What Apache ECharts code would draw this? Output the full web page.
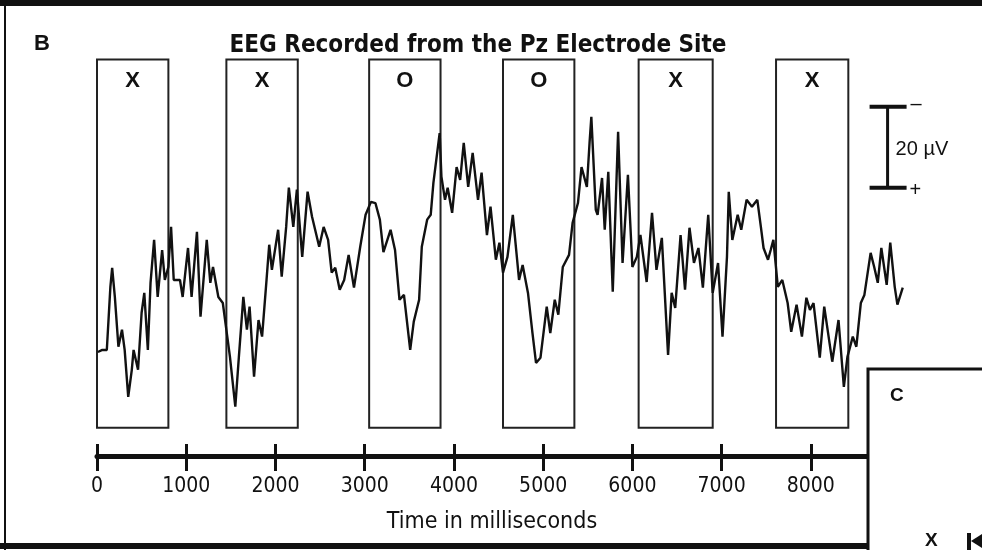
<!DOCTYPE html>
<html>
<head>
<meta charset="utf-8">
<script src="https://cdn.jsdelivr.net/npm/echarts@6/dist/echarts.min.js"></script>
<style>
  html, body { margin: 0; padding: 0; background: #fff; }
  #chart { width: 982px; height: 550px; }
</style>
</head>
<body>
<div id="chart"></div>
<script>
// EEG trace (time in ms, amplitude in µV, negative up)
const timeMs = [10,60,110,150,170,200,240,280,310,350,390,410,460,500,530,570,600,640,680,730,760,800,830,860,930,960,1020,1060,1120,1160,1230,1270,1300,1360,1410,1460,1490,1550,1590,1640,1680,1710,1760,1810,1850,1900,1930,1960,2030,2070,2120,2150,2200,2240,2300,2360,2410,2490,2540,2590,2630,2670,2720,2770,2820,2880,2950,3010,3070,3120,3170,3210,3290,3340,3390,3440,3510,3550,3610,3640,3700,3740,3770,3840,3860,3900,3930,3980,4030,4070,4110,4160,4210,4270,4310,4370,4410,4470,4510,4550,4600,4660,4730,4770,4830,4880,4920,4970,5040,5080,5130,5170,5220,5290,5330,5390,5430,5490,5520,5540,5590,5610,5660,5690,5730,5780,5840,5890,5950,6000,6050,6090,6160,6220,6270,6330,6400,6440,6480,6540,6590,6640,6690,6740,6790,6850,6900,6960,7010,7060,7080,7120,7180,7220,7280,7340,7400,7440,7470,7520,7550,7580,7630,7680,7740,7780,7840,7900,7950,7990,8030,8100,8150,8240,8310,8370,8410,8470,8510,8560,8600,8670,8710,8750,8790,8850,8890,8940,8970,9030];
const amplitudeUV = [20.3,19.8,19.8,4.2,-0.5,6.7,19.0,14.8,19.8,31.4,24.7,19.8,24.7,10.6,5.7,19.8,3.2,-7.4,6.7,-4.9,2.5,-0.7,-10.6,2.5,2.5,6.7,-5.4,6.7,-9.4,11.6,-7.4,3.2,-0.7,6.7,8.2,16.5,21.5,33.8,21.5,6.7,14.8,9.1,26.4,12.4,16.5,2.5,-6.2,0,-9.9,1.7,-10.6,-20.3,-10.6,-19.8,-3.2,-19.3,-13.1,-5.7,-10.6,-7.4,0.7,-0.5,4.9,2.5,-3.7,4.4,-5.7,-13.6,-16.8,-16.5,-12.4,-4.4,-9.9,-4.9,7.4,6.2,19.8,12.8,7.4,-5.7,-12.4,-13.6,-21.5,-33.8,-23.0,-17.3,-20.3,-14.1,-25.4,-22.2,-31.4,-20.5,-28.9,-17.3,-24.0,-8.6,-15.6,-2.5,-6.7,0.7,-3.2,-13.6,2.5,-1.2,5.7,15.6,23.0,21.7,9.1,15.6,7.4,11.1,-0.7,-3.7,-11.6,-16.5,-25.4,-20.5,-31.4,-37.8,-14.8,-13.6,-22.7,-9.9,-24.2,5.4,-34.1,-1.7,-23.5,-0.7,-3.2,-8.6,3.0,-14.1,0,-7.9,21.0,5.7,9.4,-8.6,4.9,-10.4,-1.7,-5.4,4.4,-13.6,5.7,-1.7,16.5,-3.2,-19.3,-7.4,-13.6,-9.9,-17.3,-15.6,-17.3,-10.6,-5.4,-2.5,-4.9,-7.4,4.2,2.5,8.2,15.3,8.6,16.5,6.9,9.9,8.2,21.7,9.1,22.7,12.4,28.9,21.5,16.5,19.0,8.2,6.2,-4.2,-0.7,3.2,-5.4,3.7,-6.7,4.2,8.6,4.4];

// stimulus epochs (boxes)
const epochStart = [0, 1450, 3050, 4550, 6070, 7610];
const epochEnd = [800, 2250, 3850, 5350, 6900, 8420];
const epochLabel = ['X', 'X', 'O', 'O', 'X', 'X'];

// calibration bar
const scaleBarTime = 8860;
const scaleBarFrom = -40.3;
const scaleBarUVsize = 20;

const BOX_TOP = -52;
const BOX_BOTTOM = 39;

const NARROW = '"Liberation Sans Narrow", "Arial Narrow", "DejaVu Sans Condensed", sans-serif';
const SANS = '"Liberation Sans", Arial, sans-serif';
const INK = '#111';

const chart = echarts.init(document.getElementById('chart'));

const option = {
  animation: false,
  backgroundColor: '#fff',
  title: {
    text: 'EEG Recorded from the Pz Electrode Site',
    left: 473,
    textAlign: 'center',
    top: 29,
    textStyle: { fontFamily: NARROW, fontWeight: 'bold', fontSize: 24, color: INK }
  },
  grid: { left: 97, right: 73, top: 27, height: 429 },
  xAxis: [
    {
      type: 'value', min: 0, max: 9100, interval: 1000, position: 'bottom',
      axisLine: { onZero: false, lineStyle: { color: INK, width: 5 } },
      axisTick: { length: 15, lineStyle: { color: INK, width: 3 } },
      axisLabel: { margin: 20, fontSize: 21, fontFamily: NARROW, color: INK, formatter: v => String(v) },
      splitLine: { show: false },
      name: 'Time in milliseconds',
      nameLocation: 'middle',
      nameGap: 55,
      nameTextStyle: { fontFamily: NARROW, fontSize: 23, color: INK, padding: [0, 22, 0, 0] }
    },
    {
      type: 'value', min: 0, max: 9100, interval: 1000, position: 'bottom',
      axisLine: { show: false, onZero: false },
      axisTick: { inside: true, length: 12, lineStyle: { color: INK, width: 3 } },
      axisLabel: { show: false },
      splitLine: { show: false }
    }
  ],
  yAxis: {
    type: 'value', min: -60, max: 46, inverse: true, show: false
  },
  series: [
    {
      type: 'custom',
      name: 'epochs',
      xAxisIndex: 0,
      data: epochStart.map((s, i) => [s, epochEnd[i], i]),
      renderItem: function (params, api) {
        const p0 = api.coord([api.value(0), BOX_TOP]);
        const p1 = api.coord([api.value(1), BOX_BOTTOM]);
        return {
          type: 'group',
          children: [
            {
              type: 'rect',
              shape: { x: p0[0], y: p0[1], width: p1[0] - p0[0], height: p1[1] - p0[1] },
              style: { fill: 'none', stroke: '#222', lineWidth: 2 }
            },
            {
              type: 'text',
              style: {
                text: epochLabel[api.value(2)],
                x: (p0[0] + p1[0]) / 2, y: p0[1] + 22,
                align: 'center', verticalAlign: 'middle',
                font: 'bold 22px ' + SANS, fill: INK
              }
            }
          ]
        };
      }
    },
    {
      type: 'line',
      name: 'Pz',
      data: timeMs.map((t, i) => [t, amplitudeUV[i]]),
      showSymbol: false,
      symbol: 'none',
      lineStyle: { color: INK, width: 2.4 },
      z: 3
    },
    {
      type: 'custom',
      name: 'scale',
      data: [[scaleBarTime, scaleBarFrom, scaleBarFrom + scaleBarUVsize]],
      renderItem: function (params, api) {
        const a = api.coord([api.value(0), api.value(1)]);
        const b = api.coord([api.value(0), api.value(2)]);
        const font = '20px ' + SANS;
        return {
          type: 'group',
          children: [
            { type: 'line', shape: { x1: a[0], y1: a[1], x2: b[0], y2: b[1] }, style: { stroke: INK, lineWidth: 3 } },
            { type: 'line', shape: { x1: a[0] - 18, y1: a[1], x2: a[0] + 19, y2: a[1] }, style: { stroke: INK, lineWidth: 4 } },
            { type: 'line', shape: { x1: b[0] - 18, y1: b[1], x2: b[0] + 19, y2: b[1] }, style: { stroke: INK, lineWidth: 4 } },
            { type: 'text', style: { text: '\u2013', x: a[0] + 23, y: a[1] - 2, verticalAlign: 'middle', font: font, fill: INK } },
            { type: 'text', style: { text: '+', x: b[0] + 22, y: b[1] + 3, verticalAlign: 'middle', font: font, fill: INK } },
            { type: 'text', style: { text: '20 \u00b5V', x: a[0] + 8, y: (a[1] + b[1]) / 2 + 2, verticalAlign: 'middle', font: font, fill: INK } }
          ]
        };
      }
    }
  ],
  graphic: [
    // panel frame
    { type: 'rect', shape: { x: 0, y: 0, width: 982, height: 6 }, style: { fill: INK }, z: 100 },
    { type: 'rect', shape: { x: 4, y: 0, width: 2, height: 550 }, style: { fill: INK }, z: 100 },
    { type: 'rect', shape: { x: 0, y: 543, width: 870, height: 6 }, style: { fill: INK }, z: 100 },
    { type: 'text', style: { text: 'B', x: 34, y: 44, verticalAlign: 'middle', font: 'bold 22px ' + SANS, fill: INK }, z: 100 },
    // neighbouring panel C
    { type: 'rect', shape: { x: 868, y: 369, width: 130, height: 200 }, style: { fill: '#fff', stroke: INK, lineWidth: 3 }, z: 100 },
    { type: 'text', style: { text: 'C', x: 890, y: 396, verticalAlign: 'middle', font: 'bold 19px ' + SANS, fill: INK }, z: 101 },
    { type: 'text', style: { text: 'X', x: 925, y: 541, verticalAlign: 'middle', font: 'bold 19px ' + SANS, fill: INK }, z: 101 },
    { type: 'rect', shape: { x: 967, y: 533, width: 4, height: 17 }, style: { fill: INK }, z: 101 },
    { type: 'polygon', shape: { points: [[971, 541], [982, 534], [982, 548]] }, style: { fill: INK }, z: 101 }
  ]
};

chart.setOption(option);
</script>
</body>
</html>
